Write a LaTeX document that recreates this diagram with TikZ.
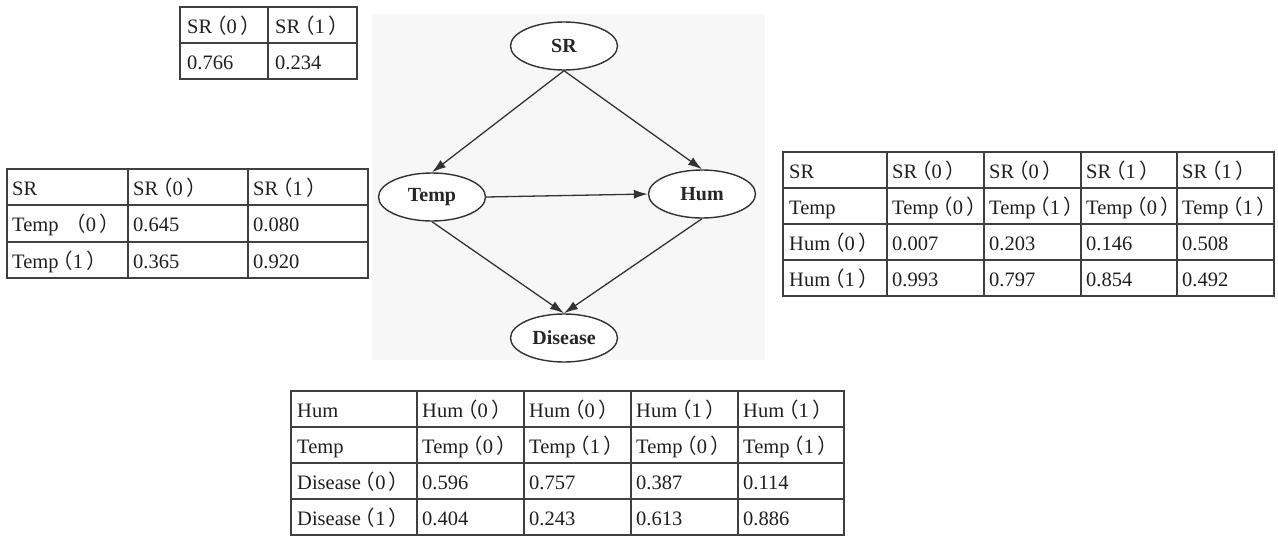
\documentclass[tikz,border=0pt]{standalone}
\usepackage{fontspec}
\setmainfont{Liberation Serif}
\newfontfamily\cjk{Noto Sans CJK SC}
\usetikzlibrary{arrows.meta, shapes.geometric}
\newcommand{\pz}[1]{\makebox[0.7em][r]{\cjk （}#1\makebox[0.7em][l]{\cjk \,）}}

\tikzset{
    varnode/.style={ellipse, draw=black!80, line width=1.4pt, fill=white, minimum width=107pt, minimum height=48pt, inner sep=0pt, font=\fontsize{20}{23}\selectfont\bfseries, text=black!85},
    link/.style={draw=black!80, line width=1.3pt, -{Latex[length=14pt,width=9pt]}},
    tabline/.style={draw=black!75, line width=1.1pt},
    cell/.style={anchor=base west, inner sep=0pt, font=\fontsize{20.5}{23}\selectfont, text=black!88},
}

\begin{document}
\begin{tikzpicture}[x=1pt, y=-1pt]
        \useasboundingbox (0,0) rectangle (1278,538);

        % network
        \fill[black!3] (372,14) rectangle (765,360);
        \node[varnode] (SR) at (564,46) {SR};
        \node[varnode] (Temp) at (432,197) {Temp};
        \node[varnode] (Hum) at (702,194) {Hum};
        \node[varnode] (Disease) at (564,338) {Disease};
        \draw[link] (SR.south) -- (Temp.north);
        \draw[link] (SR.south) -- (Hum.north);
        \draw[link] (Temp.east) -- (Hum.west);
        \draw[link] (Temp.south) -- (Disease.north);
        \draw[link] (Hum.south) -- (Disease.north);

        % SR table
        \draw[tabline] (180,7) rectangle (357,79);
        \draw[tabline] (180,43) -- (357,43);
        \draw[tabline] (268,7) -- (268,79);
        \node[cell] (a11) at (187,33) {SR\pz{0}};
        \node[cell] (a12) at (275,33) {SR\pz{1}};
        \node[cell] (a21) at (187,69) {0.766};
        \node[cell] (a22) at (275,69) {0.234};

        % Temp table
        \draw[tabline] (7,169) rectangle (368,278);
        \draw[tabline] (7,205) -- (368,205);
        \draw[tabline] (7,242) -- (368,242);
        \draw[tabline] (128,169) -- (128,278);
        \draw[tabline] (248,169) -- (248,278);
        \node[cell] (b11) at (12,195) {SR};
        \node[cell] (b12) at (133,195) {SR\pz{0}};
        \node[cell] (b13) at (253,195) {SR\pz{1}};
        \node[cell] (b21) at (12,231) {Temp\hspace{13pt}\pz{0}};
        \node[cell] (b22) at (133,231) {0.645};
        \node[cell] (b23) at (253,231) {0.080};
        \node[cell] (b31) at (12,268) {Temp\pz{1}};
        \node[cell] (b32) at (133,268) {0.365};
        \node[cell] (b33) at (253,268) {0.920};

        % Hum table
        \draw[tabline] (783,152) rectangle (1274,296);
        \draw[tabline] (783,188) -- (1274,188);
        \draw[tabline] (783,224) -- (1274,224);
        \draw[tabline] (783,260) -- (1274,260);
        \draw[tabline] (887,152) -- (887,296);
        \draw[tabline] (984,152) -- (984,296);
        \draw[tabline] (1081,152) -- (1081,296);
        \draw[tabline] (1177,152) -- (1177,296);
        \node[cell] (c11) at (789,178) {SR};
        \node[cell] (c12) at (892,178) {SR\pz{0}};
        \node[cell] (c13) at (989,178) {SR\pz{0}};
        \node[cell] (c14) at (1086,178) {SR\pz{1}};
        \node[cell] (c15) at (1182,178) {SR\pz{1}};
        \node[cell] (c21) at (789,214) {Temp};
        \node[cell] (c22) at (892,214) {Temp\pz{0}};
        \node[cell] (c23) at (989,214) {Temp\pz{1}};
        \node[cell] (c24) at (1086,214) {Temp\pz{0}};
        \node[cell] (c25) at (1182,214) {Temp\pz{1}};
        \node[cell] (c31) at (789,250) {Hum\pz{0}};
        \node[cell] (c32) at (892,250) {0.007};
        \node[cell] (c33) at (989,250) {0.203};
        \node[cell] (c34) at (1086,250) {0.146};
        \node[cell] (c35) at (1182,250) {0.508};
        \node[cell] (c41) at (789,286) {Hum\pz{1}};
        \node[cell] (c42) at (892,286) {0.993};
        \node[cell] (c43) at (989,286) {0.797};
        \node[cell] (c44) at (1086,286) {0.854};
        \node[cell] (c45) at (1182,286) {0.492};

        % Disease table
        \draw[tabline] (291,391) rectangle (844,535);
        \draw[tabline] (291,427) -- (844,427);
        \draw[tabline] (291,463) -- (844,463);
        \draw[tabline] (291,499) -- (844,499);
        \draw[tabline] (417,391) -- (417,535);
        \draw[tabline] (524,391) -- (524,535);
        \draw[tabline] (631,391) -- (631,535);
        \draw[tabline] (738,391) -- (738,535);
        \node[cell] (d11) at (297,417) {Hum};
        \node[cell] (d12) at (422,417) {Hum\pz{0}};
        \node[cell] (d13) at (529,417) {Hum\pz{0}};
        \node[cell] (d14) at (636,417) {Hum\pz{1}};
        \node[cell] (d15) at (743,417) {Hum\pz{1}};
        \node[cell] (d21) at (297,453) {Temp};
        \node[cell] (d22) at (422,453) {Temp\pz{0}};
        \node[cell] (d23) at (529,453) {Temp\pz{1}};
        \node[cell] (d24) at (636,453) {Temp\pz{0}};
        \node[cell] (d25) at (743,453) {Temp\pz{1}};
        \node[cell] (d31) at (297,489) {Disease\pz{0}};
        \node[cell] (d32) at (422,489) {0.596};
        \node[cell] (d33) at (529,489) {0.757};
        \node[cell] (d34) at (636,489) {0.387};
        \node[cell] (d35) at (743,489) {0.114};
        \node[cell] (d41) at (297,525) {Disease\pz{1}};
        \node[cell] (d42) at (422,525) {0.404};
        \node[cell] (d43) at (529,525) {0.243};
        \node[cell] (d44) at (636,525) {0.613};
        \node[cell] (d45) at (743,525) {0.886};
    \end{tikzpicture}
\end{document}
